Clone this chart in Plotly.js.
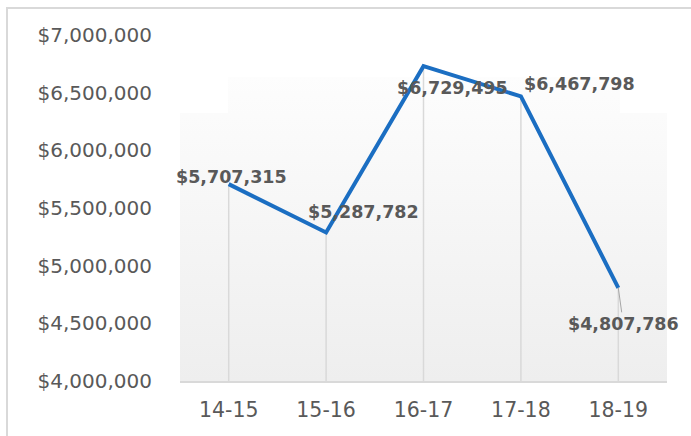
<!DOCTYPE html>
<html>
<head>
<meta charset="utf-8">
<script src="https://cdn.plot.ly/plotly-3.0.1.min.js"></script>
<style>
html,body{margin:0;padding:0;background:#fff;}
#chart{width:691px;height:436px;}
</style>
</head>
<body>
<div id="chart"></div>
<script>
// Data
const categories = ["14-15", "15-16", "16-17", "17-18", "18-19"];
const values = [5707315, 5287782, 6729495, 6467798, 4807786];
const yTickVals = [4000000, 4500000, 5000000, 5500000, 6000000, 6500000, 7000000];
const yMin = 4000000, yMax = 7000000;

// label placement (pixel offsets, style only)
const labelShift = [[3, 7], [37, 20], [29, -22], [59, 12.5], [5, -36]];

const fmt = v => "$" + v.toLocaleString("en-US");
const yTickText = yTickVals.map(fmt);

// drop lines built from data
const dropX = [], dropY = [];
categories.forEach((c, i) => { dropX.push(c, c, null); dropY.push(values[i], yMin, null); });

const dropTrace = {
  x: dropX, y: dropY, type: "scatter", mode: "lines",
  line: {color: "#d9d9d9", width: 1.5}, hoverinfo: "skip", showlegend: false
};
const lineTrace = {
  x: categories, y: values, type: "scatter", mode: "lines",
  line: {color: "#1b6ec2", width: 4}, showlegend: false
};

const annotations = categories.map((c, i) => {
  const last = i === categories.length - 1;
  const a = {
    x: c, y: values[i], xref: "x", yref: "y",
    text: fmt(values[i]),
    font: {family: "DejaVu Sans", size: 17.5, color: "#595959", weight: "bold"},
    showarrow: false,
    xshift: labelShift[i][0], yshift: labelShift[i][1]
  };
  if (last) {
    a.showarrow = true; a.arrowhead = 0; a.arrowwidth = 1; a.arrowcolor = "#a6a6a6";
    a.ax = labelShift[i][0]; a.ay = -labelShift[i][1]; a.xshift = 0; a.yshift = 0; a.standoff = 0;
  }
  return a;
});

// gradient background (plot-area coordinates 487 x 346)
const W = 487, H = 346;
const svg = `<svg xmlns='http://www.w3.org/2000/svg' width='${W}' height='${H}' viewBox='0 0 ${W} ${H}' preserveAspectRatio='none'>
<defs><linearGradient id='g' gradientUnits='userSpaceOnUse' x1='0' y1='0' x2='0' y2='${H}'>
<stop offset='0' stop-color='#ffffff'/><stop offset='1' stop-color='#eeeeee'/></linearGradient></defs>
<rect x='0' y='78' width='${W}' height='${H-78}' fill='url(#g)'/>
<rect x='48' y='42' width='392' height='${H-42}' fill='url(#g)'/>
</svg>`;
const bgSrc = "data:image/svg+xml;charset=utf-8," + encodeURIComponent(svg);

const layout = {
  width: 691, height: 436,
  margin: {l: 180, r: 24, t: 35, b: 55},
  paper_bgcolor: "#ffffff", plot_bgcolor: "rgba(0,0,0,0)",
  font: {family: "DejaVu Sans", color: "#595959"},
  showlegend: false,
  xaxis: {
    type: "category", range: [-0.5, 4.5],
    showgrid: false, zeroline: false,
    showline: true, linecolor: "#d9d9d9", linewidth: 2,
    ticks: "", tickfont: {family: "DejaVu Sans", size: 20.5, color: "#595959"},
    ticklabelstandoff: 9, fixedrange: true
  },
  yaxis: {
    range: [yMin, yMax], tickmode: "array", tickvals: yTickVals, ticktext: yTickText,
    showgrid: false, zeroline: false, showline: false, ticks: "",
    tickfont: {family: "DejaVu Sans", size: 20, color: "#595959"},
    ticklabelstandoff: 27, fixedrange: true
  },
  images: [{
    source: bgSrc, xref: "paper", yref: "paper", x: 0, y: 1, sizex: 1, sizey: 1,
    xanchor: "left", yanchor: "top", sizing: "stretch", layer: "below"
  }],
  shapes: [{
    type: "path", xref: "paper", yref: "paper",
    path: "M -0.3552 -0.3 L -0.3552 1.078 L 1.2 1.078",
    line: {color: "#d9d9d9", width: 2}
  }],
  annotations: annotations
};

Plotly.newPlot("chart", [dropTrace, lineTrace], layout, {displayModeBar: false, staticPlot: true});
</script>
</body>
</html>
